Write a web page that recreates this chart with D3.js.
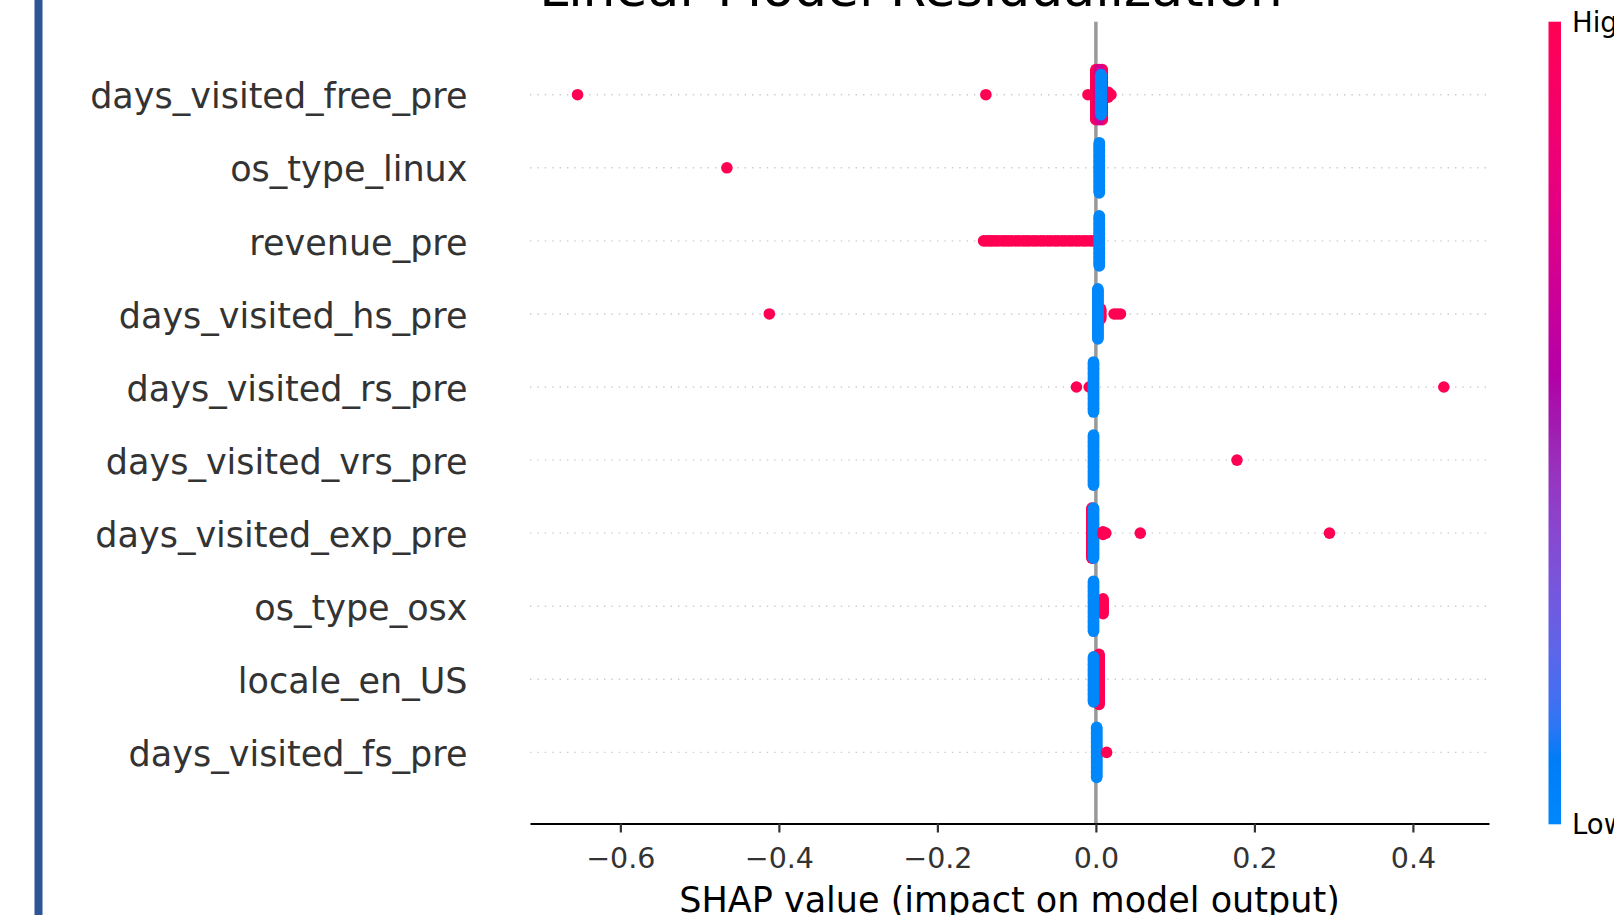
<!DOCTYPE html>
<html>
<head>
<meta charset="utf-8">
<script src="https://cdn.jsdelivr.net/npm/d3@7"></script>
<style>
  body { margin: 0; background: #fff; }
  svg { display: block; font-family: "DejaVu Sans", sans-serif; }
</style>
</head>
<body>
<div id="chart"></div>
<script>
const features = [
  "days_visited_free_pre", "os_type_linux", "revenue_pre", "days_visited_hs_pre",
  "days_visited_rs_pre", "days_visited_vrs_pre", "days_visited_exp_pre",
  "os_type_osx", "locale_en_US", "days_visited_fs_pre"
];
const xTicks = [-0.6, -0.4, -0.2, 0.0, 0.2, 0.4];
const colorLabels = ["Low", "High"];
const titleText = "Linear Model Residualization";
const xLabel = "SHAP value (impact on model output)";

// [SHAP value, feature value (0 = low .. 1 = high), number of points stacked there]
const freePre = [[0.000, 1, 41], [0.008, 1, 41], [0.0155, 1, 5], [0.019, 1, 1], [-0.010, 1, 1],
  [-0.1388, 1, 1], [-0.654, 1, 1], [0.004, 0.7, 41], [0.0065, 0, 33]];
const linux = [[-0.4656, 1, 1], [0.0043, 0, 41]];
const revenue = [[-0.1417, 1, 1], [-0.138, 1, 1], [-0.134, 1, 1], [-0.131, 1, 1], [-0.127, 1, 1],
  [-0.123, 1, 1], [-0.118, 1, 1], [-0.114, 1, 1], [-0.110, 1, 1], [-0.106, 1, 1], [-0.101, 1, 1],
  [-0.097, 1, 1], [-0.092, 1, 1], [-0.088, 1, 1], [-0.084, 1, 1], [-0.079, 1, 1], [-0.075, 1, 1],
  [-0.070, 1, 1], [-0.066, 1, 1], [-0.061, 1, 1], [-0.057, 1, 1], [-0.052, 1, 1], [-0.048, 1, 1],
  [-0.043, 1, 1], [-0.039, 1, 1], [-0.034, 1, 1], [-0.030, 1, 1], [-0.025, 1, 1], [-0.021, 1, 1],
  [-0.016, 1, 1], [-0.012, 1, 1], [-0.007, 1, 1], [-0.003, 1, 1], [0.0043, 0, 41]];
const hsPre = [[-0.412, 1, 1], [0.006, 1, 9], [0.0025, 0, 41], [0.023, 1, 1], [0.027, 1, 1], [0.031, 1, 1]];
const rsPre = [[-0.0245, 1, 1], [-0.0085, 1, 1], [-0.003, 0, 41], [0.439, 1, 1]];
const vrsPre = [[-0.003, 0, 41], [0.178, 1, 1]];
const expPre = [[-0.005, 1, 41], [-0.003, 0, 41], [0.009, 1, 3], [0.0125, 1, 1], [0.056, 1, 1], [0.2947, 1, 1]];
const osx = [[0.009, 1, 13], [-0.003, 0, 41]];
const localeUS = [[0.004, 1, 41], [-0.003, 0, 37]];
const fsPre = [[0.001, 0, 41], [0.0135, 1, 1]];
const rows = [freePre, linux, revenue, hsPre, rsPre, vrsPre, expPre, osx, localeUS, fsPre];

const width = 1614, height = 915;
const axisY = 823.5, axisTop = 21.7;
const x = d3.scaleLinear().domain([-0.714, 0.496]).range([530, 1489]);
const y = d3.scalePoint().domain(features).range([94.7, 752.4]);
const r = 5.8;

// shap red_blue: interpolation in Lch space
function shapColor(t) {
  const l = t < 0.5 ? 54 - 28 * t : 40 + 28 * (t - 0.5);
  return d3.lch(l, 70 + 20 * t, 266.93 + 113.39 * t).formatHex();
}

const svg = d3.select("#chart").append("svg")
  .attr("width", width)
  .attr("height", height);

svg.append("rect").attr("width", width).attr("height", height).attr("fill", "#fff");
svg.append("rect").attr("x", 34.5).attr("y", 0).attr("width", 8).attr("height", height).attr("fill", "#2f5597");

// dotted row guides
svg.selectAll(".guide")
  .data(features)
  .enter().append("line")
  .attr("x1", x.range()[0]).attr("x2", x.range()[1])
  .attr("y1", d => y(d)).attr("y2", d => y(d))
  .attr("stroke", "#cccccc")
  .attr("stroke-width", 1.4)
  .attr("stroke-dasharray", "1.4,6");

svg.append("line")
  .attr("x1", x(0)).attr("x2", x(0))
  .attr("y1", axisTop).attr("y2", axisY)
  .attr("stroke", "#999999")
  .attr("stroke-width", 3.5);

// beeswarm stacking like shap: layers alternate above and below the row
const dots = [];
rows.forEach((piles, i) => {
  const maxHalf = d3.max(piles, p => Math.ceil((p[2] - 1) / 2));
  const step = 0.36 * y.step() / (maxHalf + 1);
  piles.forEach(([v, f, n]) => {
    for (let k = 0; k < n; k++) {
      const layer = Math.ceil(k / 2) * (k % 2 ? 1 : -1);
      dots.push({ feature: features[i], shap: v, value: f, off: layer * step });
    }
  });
});

svg.append("g").selectAll("circle")
  .data(dots)
  .enter().append("circle")
  .attr("cx", d => x(d.shap))
  .attr("cy", d => y(d.feature) - d.off)
  .attr("r", r)
  .attr("fill", d => shapColor(d.value));

// feature labels
svg.selectAll(".flabel")
  .data(features)
  .enter().append("text")
  .attr("x", 467.5)
  .attr("y", d => y(d))
  .attr("dy", "0.39em")
  .attr("text-anchor", "end")
  .attr("font-size", 35)
  .attr("fill", "#333333")
  .text(d => d);

// x axis
const xAxis = svg.append("g")
  .attr("transform", `translate(0,${axisY})`)
  .call(d3.axisBottom(x).tickValues(xTicks).tickSize(9).tickSizeOuter(0).tickFormat(d3.format(".1f")));
xAxis.select(".domain").attr("stroke", "#000").attr("stroke-width", 2.2);
xAxis.selectAll(".tick line").attr("stroke", "#333333").attr("stroke-width", 2.2);
xAxis.selectAll(".tick text")
  .attr("y", 44).attr("dy", 0)
  .attr("font-size", 28.5)
  .attr("font-family", "DejaVu Sans")
  .attr("fill", "#333333");

svg.append("text")
  .attr("x", (x.range()[0] + x.range()[1]) / 2)
  .attr("y", 912)
  .attr("text-anchor", "middle")
  .attr("font-size", 35)
  .attr("fill", "#000")
  .text(xLabel);

svg.append("text")
  .attr("x", 911)
  .attr("y", 6)
  .attr("text-anchor", "middle")
  .attr("font-size", 52)
  .attr("fill", "#000")
  .text(titleText);

// colour bar
const grad = svg.append("defs").append("linearGradient")
  .attr("id", "cbar")
  .attr("x1", 0).attr("y1", 1).attr("x2", 0).attr("y2", 0);
grad.selectAll("stop")
  .data(d3.range(0, 1.0001, 0.02))
  .enter().append("stop")
  .attr("offset", d => d)
  .attr("stop-color", d => shapColor(d));

const cb = d3.scaleLinear().domain([0, 1]).range([824.3, axisTop]);
svg.append("rect")
  .attr("x", 1548.5).attr("y", cb(1))
  .attr("width", 12.5).attr("height", cb(0) - cb(1))
  .attr("fill", "url(#cbar)");

svg.selectAll(".cblabel")
  .data(colorLabels)
  .enter().append("text")
  .attr("x", 1572)
  .attr("y", (d, i) => cb(i))
  .attr("dy", "0.36em")
  .attr("font-size", 27.5)
  .attr("fill", "#000")
  .text(d => d);
</script>
</body>
</html>
